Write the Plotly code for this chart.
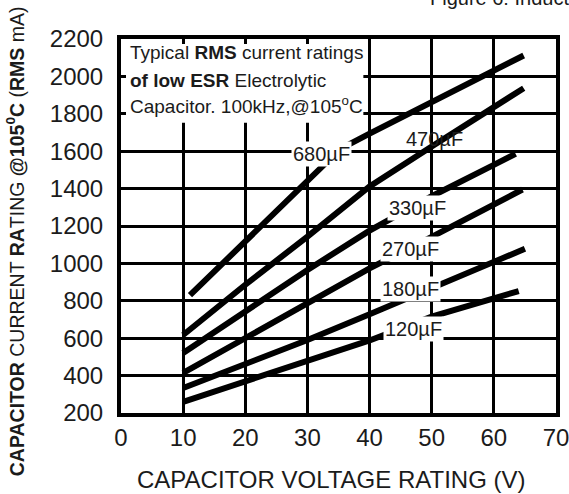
import plotly.graph_objects as go

# ---- data ----
voltage_ticks = [0, 10, 20, 30, 40, 50, 60, 70]
current_ticks = [200, 400, 600, 800, 1000, 1200, 1400, 1600, 1800, 2000, 2200]

v_680 = [11.1, 20, 30, 35.3, 40, 50, 60, 64.8]
i_680 = [830, 1119, 1443, 1612, 1694, 1863, 2032, 2112]

v_470 = [10, 20, 30, 40, 50, 60, 64.8]
i_470 = [617, 886, 1143, 1412, 1625, 1840, 1937]

v_330 = [10, 20, 30, 40, 50, 60, 63.5]
i_330 = [521, 747, 965, 1175, 1359, 1527, 1586]

v_270 = [10, 20, 30, 40, 50, 60, 64.6]
i_270 = [414, 600, 787, 973, 1142, 1316, 1395]

v_180 = [10, 20, 30, 40, 50, 60, 65]
i_180 = [334, 462, 590, 728, 866, 1007, 1078]

v_120 = [10, 20, 30, 40, 50, 60, 64]
i_120 = [260, 367, 474, 588, 715, 814, 852]

series = [
    ("680µF", v_680, i_680),
    ("470µF", v_470, i_470),
    ("330µF", v_330, i_330),
    ("270µF", v_270, i_270),
    ("180µF", v_180, i_180),
    ("120µF", v_120, i_120),
]

# label positions (voltage, current) and whether they mask what is behind
label_names = ["680µF", "470µF", "330µF", "270µF", "180µF", "120µF"]
label_v = [32.3, 50.4, 47.7, 46.6, 46.6, 47.0]
label_i = [1585, 1665, 1298, 1075, 861, 650]
label_masked = [True, False, True, True, True, True]

box_lines = [
    "Typical <b>RMS</b> current ratings",
    "<b>of low ESR</b> Electrolytic",
    "Capacitor. 100kHz,@105<sup>o</sup>C",
]
box_line_current = [2130, 1980, 1845]

SANS = "Liberation Sans, Arial, Helvetica, sans-serif"
INK = "#1b1b1b"

fig = go.Figure()
for name, v, i in series:
    fig.add_trace(go.Scatter(x=v, y=i, mode="lines", name=name,
                             line=dict(color="black", width=6),
                             showlegend=False, hoverinfo="skip"))

# white box behind the description text (hides the gridlines)
fig.add_shape(type="rect", xref="x", yref="y", x0=0, x1=39, y0=1752, y1=2200,
              fillcolor="white", line=dict(width=0), layer="between")

for txt, yv in zip(box_lines, box_line_current):
    fig.add_annotation(x=1.1, y=yv, xref="x", yref="y", text=txt, showarrow=False,
                       xanchor="left", yanchor="middle",
                       font=dict(family=SANS, size=19, color=INK))

for name, lv, li, m in zip(label_names, label_v, label_i, label_masked):
    fig.add_annotation(x=lv, y=li, xref="x", yref="y", text=name, showarrow=False,
                       xanchor="center", yanchor="middle",
                       bgcolor="white" if m else "rgba(0,0,0,0)", borderpad=1,
                       font=dict(family=SANS, size=20, color=INK))

# axis titles
fig.add_annotation(x=0.483, y=-0.179, xref="paper", yref="paper",
                   text="CAPACITOR VOLTAGE RATING (V)", showarrow=False,
                   xanchor="center", yanchor="middle",
                   font=dict(family=SANS, size=24, color=INK))
fig.add_annotation(x=-0.243, y=0.46, xref="paper", yref="paper",
                   text="<b>CAPACITOR</b> CURRENT <b>RA</b>TING <b>@105<sup>0</sup>C</b> (<b>RMS</b> mA)",
                   showarrow=False, textangle=-90, xanchor="center", yanchor="middle",
                   font=dict(family=SANS, size=19.5, color=INK))
# cropped caption at top
fig.add_annotation(x=0.706, y=1.11, xref="paper", yref="paper",
                   text="Figure 6: Inducto", showarrow=False,
                   xanchor="left", yanchor="middle",
                   font=dict(family=SANS, size=20, color=INK))

axis_common = dict(showgrid=True, gridcolor="black", gridwidth=3,
                   showline=True, linecolor="black", linewidth=4, mirror="ticks",
                   ticks="inside", ticklen=5, tickwidth=3, tickcolor="black",
                   zeroline=False, automargin=False, ticklabeloverflow="allow",
                   tickfont=dict(family=SANS, size=24, color=INK))

fig.update_xaxes(range=[0, 70], tickvals=voltage_ticks, ticklabelstandoff=0, **axis_common)
fig.update_yaxes(range=[200, 2200], tickvals=current_ticks, ticklabelstandoff=9, **axis_common)

fig.update_layout(width=569, height=494,
                  margin=dict(l=121, r=13, t=39, b=81, autoexpand=False),
                  plot_bgcolor="white", paper_bgcolor="white")

# remove the browser's default body margin so the figure fills the window exactly
fig.write_html("out.html", config={"displayModeBar": False},
               post_script="document.body.style.margin='0';document.body.style.overflow='hidden';")
